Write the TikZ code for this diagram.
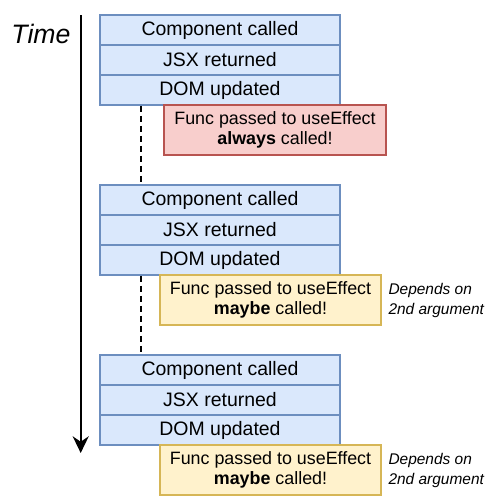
\documentclass[tikz,border=0pt]{standalone}
\usepackage{fontspec}
\setmainfont{Liberation Sans}
\usetikzlibrary{arrows.meta,calc}

\definecolor{phasefill}{HTML}{DAE8FC}
\definecolor{phaseline}{HTML}{6C8EBF}
\definecolor{alwaysfill}{HTML}{F8CECC}
\definecolor{alwaysline}{HTML}{B85450}
\definecolor{maybefill}{HTML}{FFF2CC}
\definecolor{maybeline}{HTML}{D6B656}

\tikzset{every picture/.style={line width=0.75pt}}
\tikzset{
  phase/.style={draw=phaseline, fill=phasefill, line width=1.2pt, minimum width=180pt, minimum height=22.5pt, inner sep=0pt, font=\fontsize{14.6}{17}\selectfont},
  effect/.style={line width=1.2pt, minimum height=37.5pt, inner sep=0pt, align=center, font=\fontsize{13.4}{15.2}\selectfont},
  always/.style={effect, draw=alwaysline, fill=alwaysfill, minimum width=166.5pt},
  maybe/.style={effect, draw=maybeline, fill=maybefill, minimum width=165.75pt},
  aside/.style={anchor=west, inner sep=0pt, align=left, font=\fontsize{11.6}{15}\selectfont\itshape},
  rerender/.style={line width=1.5pt, dash pattern=on 4.5pt off 3pt},
}

\begin{document}
\begin{tikzpicture}[x=0.75pt,y=0.75pt,yscale=-1,xscale=1]
\useasboundingbox (0,0) rectangle (502,496);

% Time axis
\node (time) at (41,34) {\fontsize{20}{23}\selectfont\itshape Time};
\coordinate (tstart) at (80.7,15);
\coordinate (tend) at (80.7,453);
\draw [line width=1.5pt, -{Stealth[length=12.5pt, width=12pt]}] (tstart) -- (tend);

% First render
\node [phase] (comp1) at (220,30) {Component called};
\node [phase] (jsx1) at (220,60) {JSX returned};
\node [phase] (dom1) at (220,90) {DOM updated};
\node [always] (eff1) at (275,130) {Func passed to useEffect\\\textbf{always} called!};

% Second render
\node [phase] (comp2) at (220,200) {Component called};
\node [phase] (jsx2) at (220,230) {JSX returned};
\node [phase] (dom2) at (220,260) {DOM updated};
\node [maybe] (eff2) at (270.5,300) {Func passed to useEffect\\\textbf{maybe} called!};
\node [aside] (note2) at (388,300) {Depends on\\2nd argument};

% Third render
\node [phase] (comp3) at (220,370) {Component called};
\node [phase] (jsx3) at (220,400) {JSX returned};
\node [phase] (dom3) at (220,430) {DOM updated};
\node [maybe] (eff3) at (270.5,470) {Func passed to useEffect\\\textbf{maybe} called!};
\node [aside] (note3) at (388,470) {Depends on\\2nd argument};

% Gaps between renders
\draw [rerender] ($(dom1.south west)+(41.7,0)$) -- ($(comp2.north west)+(41.7,0)$);
\draw [rerender] ($(dom2.south west)+(41.7,0)$) -- ($(comp3.north west)+(41.7,0)$);

\end{tikzpicture}
\end{document}
